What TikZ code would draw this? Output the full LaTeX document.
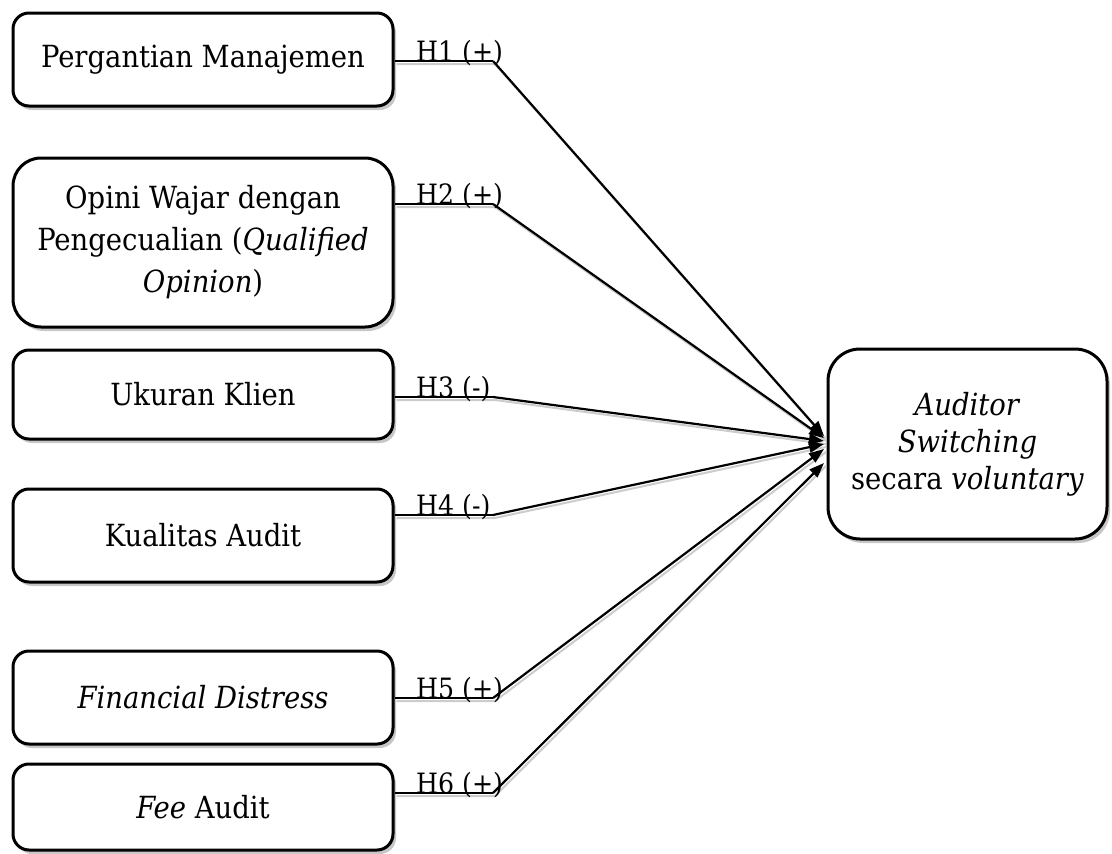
\documentclass[tikz,border=0pt]{standalone}
\usepackage{fontspec}
\setmainfont{DejaVu Serif Condensed}
\usetikzlibrary{arrows.meta,shadows}
\begin{document}
\begin{tikzpicture}[x=1pt,y=-1pt,
  box/.style={draw=black, line width=3pt, fill=white, align=center, inner sep=0pt,
    font=\fontsize{30.5}{42}\selectfont,
    drop shadow={shadow xshift=3pt, shadow yshift=-4pt, fill=black!22, opacity=1}},
  lab/.style={anchor=base west, inner sep=0pt, font=\fontsize{28}{34}\selectfont},
  hline/.style={line width=1.2pt},
  dline/.style={line width=2.2pt, -{Triangle[length=15pt,width=11pt]}},
  shd/.style={draw=black!20, line width=2pt, transform canvas={shift={(2pt,-3pt)}}}
]
\useasboundingbox (0,0) rectangle (1112,854);

% left boxes
\node[box, rounded corners=16pt, minimum width=380pt, minimum height=93pt] (b1) at (203,59.5) {Pergantian Manajemen};
\node[box, rounded corners=28pt, minimum width=380pt, minimum height=169pt] (b2) at (203,242.5) {Opini Wajar dengan\\Pengecualian (\textit{Qualified}\\\textit{Opinion})};
\node[box, rounded corners=16pt, minimum width=380pt, minimum height=89pt] (b3) at (203,394.5) {Ukuran Klien};
\node[box, rounded corners=16pt, minimum width=380pt, minimum height=93pt] (b4) at (203,535.5) {Kualitas Audit};
\node[box, rounded corners=16pt, minimum width=380pt, minimum height=93pt] (b5) at (203,697.5) {\textit{Financial Distress}};
\node[box, rounded corners=16pt, minimum width=380pt, minimum height=86pt] (b6) at (203,807) {\textit{Fee} Audit};

% target box
\node[box, rounded corners=32pt, minimum width=279pt, minimum height=190pt,
      font=\fontsize{30.5}{37}\selectfont] (t) at (967.5,444) {\textit{Auditor}\\\textit{Switching}\\secara \textit{voluntary}};

% kinks and ends
\coordinate (k1) at (493,61);
\coordinate (k2) at (493,204);
\coordinate (k3) at (493,397);
\coordinate (k4) at (493,515);
\coordinate (k5) at (493,698);
\coordinate (k6) at (493,793);
\coordinate (e1) at (824,436);
\coordinate (e2) at (824,438);
\coordinate (e3) at (824,441);
\coordinate (e4) at (824,444);
\coordinate (e5) at (824,449);
\coordinate (e6) at (824,463);

% connector shadows
\foreach \i in {1,...,6}{
  \draw[shd] (b\i.east |- k\i) -- (k\i) -- (e\i);
}
% connectors
\foreach \i in {1,...,6}{
  \draw[hline] (b\i.east |- k\i) -- (k\i);
  \draw[dline] (k\i) -- (e\i);
}

% labels
\node[lab] (l1) at (416,61) {H1 (+)};
\node[lab] (l2) at (416,204) {H2 (+)};
\node[lab] (l3) at (416,397) {H3 (-)};
\node[lab] (l4) at (416,515) {H4 (-)};
\node[lab] (l5) at (416,698) {H5 (+)};
\node[lab] (l6) at (416,793) {H6 (+)};
\end{tikzpicture}
\end{document}
